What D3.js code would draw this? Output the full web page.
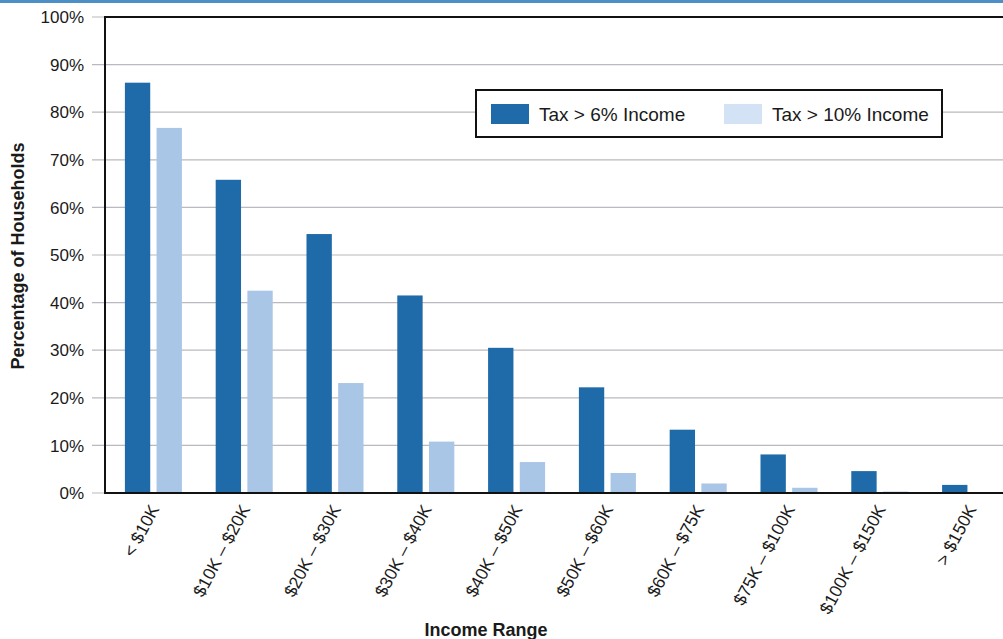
<!DOCTYPE html>
<html>
<head>
<meta charset="utf-8">
<script src="https://cdn.jsdelivr.net/npm/d3@7"></script>
<style>
  html, body { margin: 0; padding: 0; background: #ffffff; }
  svg { display: block; font-family: "Liberation Sans", Arial, Helvetica, sans-serif; }
</style>
</head>
<body>
<svg id="chart" width="1003" height="639"></svg>
<script>
const categories = ["< $10K", "$10K – $20K", "$20K – $30K", "$30K – $40K", "$40K – $50K",
                    "$50K – $60K", "$60K – $75K", "$75K – $100K", "$100K – $150K", "> $150K"];
const seriesNames = ["Tax > 6% Income", "Tax > 10% Income"];
const tax6 = [86.2, 65.8, 54.4, 41.5, 30.5, 22.2, 13.3, 8.1, 4.6, 1.7];
const tax10 = [76.7, 42.5, 23.1, 10.8, 6.5, 4.2, 2.0, 1.1, 0.3, 0.0];
const yTicks = [0, 10, 20, 30, 40, 50, 60, 70, 80, 90, 100];

const colors = ["#1f6aa8", "#a9c6e6"];
const svg = d3.select("#chart");
const W = 1003;

const plotLeft = 105, plotTop = 17, plotBottom = 493;
const x = d3.scaleBand().domain(categories).range([108, 1016]).paddingInner(0.372).paddingOuter(0.186);
const xs = d3.scaleBand().domain([0, 1]).range([0, x.bandwidth()]).paddingInner(0.2);
const y = d3.scaleLinear().domain([0, 100]).range([plotBottom, plotTop]);

// top blue band
svg.append("rect").attr("x", 0).attr("y", 0).attr("width", W).attr("height", 3).attr("fill", "#4b8fc6");

// gridlines
svg.append("g").selectAll("line").data(yTicks).join("line")
  .attr("x1", 92).attr("x2", W)
  .attr("y1", d => y(d)).attr("y2", d => y(d))
  .attr("stroke", "#b9b9bf").attr("stroke-width", 1.2);

// y tick labels
svg.append("g").selectAll("text").data(yTicks).join("text")
  .attr("x", 84).attr("y", d => y(d)).attr("dy", "0.36em")
  .attr("text-anchor", "end").attr("font-size", 17).attr("fill", "#1a1a1a")
  .text(d => d + "%");

// bars
const data = categories.map((c, i) => ({ c, vals: [tax6[i], tax10[i]] }));
const g = svg.append("g").selectAll("g").data(data).join("g")
  .attr("transform", d => `translate(${x(d.c)},0)`);
g.selectAll("rect").data(d => d.vals.map((v, k) => ({ v, k }))).join("rect")
  .attr("x", d => xs(d.k)).attr("width", xs.bandwidth())
  .attr("y", d => y(d.v)).attr("height", d => y(0) - y(d.v))
  .attr("fill", d => colors[d.k]);

// axes lines (frame)
svg.append("line").attr("x1", plotLeft).attr("x2", plotLeft).attr("y1", plotTop - 1).attr("y2", plotBottom + 1)
  .attr("stroke", "#111").attr("stroke-width", 2);
svg.append("line").attr("x1", plotLeft).attr("x2", W).attr("y1", plotTop).attr("y2", plotTop)
  .attr("stroke", "#111").attr("stroke-width", 2);
svg.append("line").attr("x1", plotLeft - 1).attr("x2", W).attr("y1", plotBottom).attr("y2", plotBottom)
  .attr("stroke", "#111").attr("stroke-width", 2);

// x labels
svg.append("g").selectAll("text").data(categories).join("text")
  .attr("transform", d => `translate(${x(d) + x.bandwidth() / 2 + 1},${plotBottom + 13}) rotate(-62)`)
  .attr("text-anchor", "end").attr("dy", "0.35em").attr("font-size", 17.5).attr("fill", "#1a1a1a")
  .text(d => d);

// axis titles
svg.append("text").attr("x", 486).attr("y", 636).attr("text-anchor", "middle")
  .attr("font-size", 18).attr("font-weight", "bold").attr("fill", "#1a1a1a").text("Income Range");
svg.append("text").attr("transform", "translate(24,256) rotate(-90)").attr("text-anchor", "middle")
  .attr("font-size", 18).attr("font-weight", "bold").attr("fill", "#1a1a1a").text("Percentage of Households");

// legend
const lg = svg.append("g");
lg.append("rect").attr("x", 476).attr("y", 90).attr("width", 466).attr("height", 47)
  .attr("fill", "#fff").attr("stroke", "#111").attr("stroke-width", 2);
const legX = [491, 724];
seriesNames.forEach((s, k) => {
  lg.append("rect").attr("x", legX[k]).attr("y", 104).attr("width", 38).attr("height", 20)
    .attr("fill", k === 0 ? colors[0] : "#d3e3f5");
  lg.append("text").attr("x", legX[k] + 48).attr("y", 114).attr("dy", "0.36em")
    .attr("font-size", 19).attr("fill", "#1a1a1a").text(s);
});
</script>
</body>
</html>
